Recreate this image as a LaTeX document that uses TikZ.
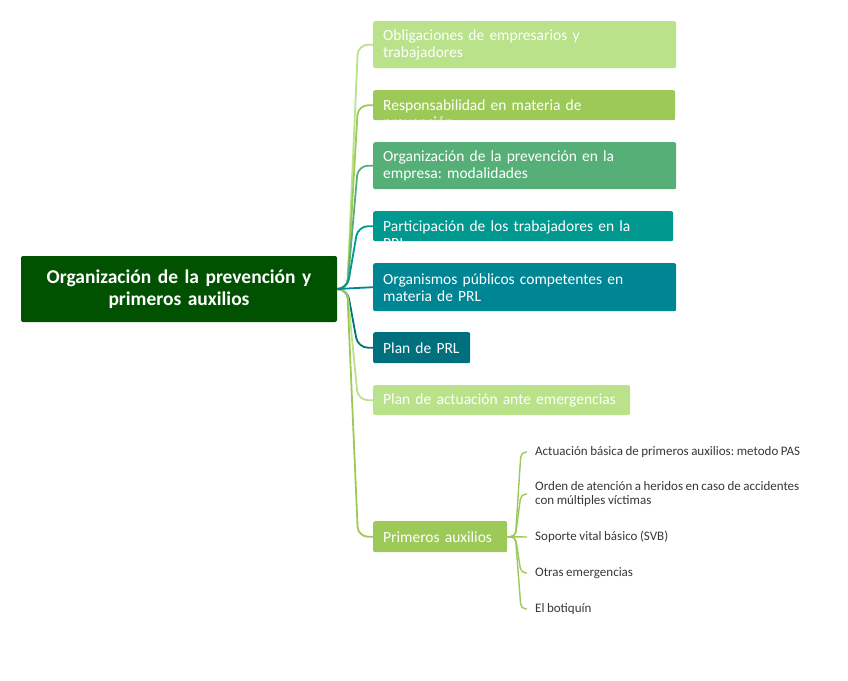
\documentclass[tikz,border=0pt]{standalone}
\usepackage{fontspec}
\setmainfont{Carlito}[WordSpace=0.85]
\frenchspacing
\usetikzlibrary{positioning}
\definecolor{rootgreen}{RGB}{0,82,0}
\definecolor{palegreen}{RGB}{185,226,138}
\definecolor{leafgreen}{RGB}{157,201,88}
\definecolor{midgreen}{RGB}{87,175,120}
\definecolor{teal}{RGB}{0,152,143}
\definecolor{bluegreen}{RGB}{0,133,149}
\definecolor{darkteal}{RGB}{0,112,127}
\definecolor{leafgray}{RGB}{55,55,55}

\begin{document}
\begin{tikzpicture}[x=1pt,y=-1pt,
    topic/.style={fill=rootgreen, rounded corners=2pt, text=white, align=center,
      font=\fontsize{19.5}{22}\selectfont\bfseries, text width=296pt,
      minimum height=66pt, inner xsep=10pt, inner ysep=0pt},
    branch/.style={rounded corners=2pt, anchor=north west, text=white, align=left,
      font=\fontsize{15.5}{17}\selectfont, inner xsep=10pt, inner ysep=0pt},
    cut/.style={text height=13pt, text depth=3pt},
    leaf/.style={anchor=west, text=leafgray, align=left,
      font=\fontsize{13}{14}\selectfont, inner xsep=8pt, inner ysep=0pt},
    link/.style={line width=1.8pt, rounded corners=10pt},
    sublink/.style={line width=1.4pt, leafgreen, rounded corners=5pt}]
  \useasboundingbox (0,0) rectangle (848,680);

  \node[topic] (root) at (179,289) {Organización de la prevención y\\primeros auxilios};

  \node[branch, fill=palegreen, text width=283pt, minimum height=47pt] (oblig) at (373,21)
    {Obligaciones de empresarios y\\trabajadores};
  \node[branch, cut, fill=leafgreen, text width=282pt, minimum height=30pt] (resp) at (373,90)
    {Responsabilidad en materia de\\prevención};
  \node[branch, fill=midgreen, text width=283pt, minimum height=47pt] (orga) at (373,142)
    {Organización de la prevención en la\\empresa: modalidades};
  \node[branch, cut, fill=teal, text width=280pt, minimum height=30pt] (parti) at (373,211)
    {Participación de los trabajadores en la\\PRL};
  \node[branch, fill=bluegreen, text width=283pt, minimum height=48pt] (organis) at (373,263)
    {Organismos públicos competentes en\\materia de PRL};
  \node[branch, fill=darkteal, text width=77pt, minimum height=31pt] (plan) at (373,332)
    {Plan de PRL};
  \node[branch, fill=palegreen, text width=237pt, minimum height=30pt] (emerg) at (373,385)
    {Plan de actuación ante emergencias};
  \node[branch, fill=leafgreen, text width=114pt, minimum height=31pt] (auxil) at (373,521)
    {Primeros auxilios};

  \node[leaf] (pas) at (527,452) {Actuación básica de primeros auxilios: metodo PAS};
  \node[leaf] (orden) at (527,494) {Orden de atención a heridos en caso de accidentes\\con múltiples víctimas};
  \node[leaf] (svb) at (527,537) {Soporte vital básico (SVB)};
  \node[leaf] (otras) at (527,573) {Otras emergencias};
  \node[leaf] (botiq) at (527,609) {El botiquín};

  \draw[link, palegreen] (root.east) -- ++(10,0) -- ([xshift=-15pt]oblig.west) -- (oblig.west);
  \draw[link, leafgreen] (root.east) -- ++(10,0) -- ([xshift=-15pt]resp.west) -- (resp.west);
  \draw[link, midgreen] (root.east) -- ++(10,0) -- ([xshift=-15pt]orga.west) -- (orga.west);
  \draw[link, teal] (root.east) -- ++(10,0) -- ([xshift=-15pt]parti.west) -- (parti.west);
  \draw[link, darkteal] (root.east) -- ++(10,0) -- ([xshift=-15pt]plan.west) -- (plan.west);
  \draw[link, palegreen] (root.east) -- ++(10,0) -- ([xshift=-15pt]emerg.west) -- (emerg.west);
  \draw[link, leafgreen] (root.east) -- ++(10,0) -- ([xshift=-15pt]auxil.west) -- (auxil.west);
  \draw[link, bluegreen] (root.east) -- (organis.west);

  \draw[sublink] (auxil.east) -- ++(8,0) -- ([xshift=-6pt]pas.west) -- (pas.west);
  \draw[sublink] (auxil.east) -- ++(8,0) -- ([xshift=-6pt]orden.west) -- (orden.west);
  \draw[sublink] (auxil.east) -- (svb.west);
  \draw[sublink] (auxil.east) -- ++(8,0) -- ([xshift=-6pt]otras.west) -- (otras.west);
  \draw[sublink] (auxil.east) -- ++(8,0) -- ([xshift=-6pt]botiq.west) -- (botiq.west);
\end{tikzpicture}
\end{document}
